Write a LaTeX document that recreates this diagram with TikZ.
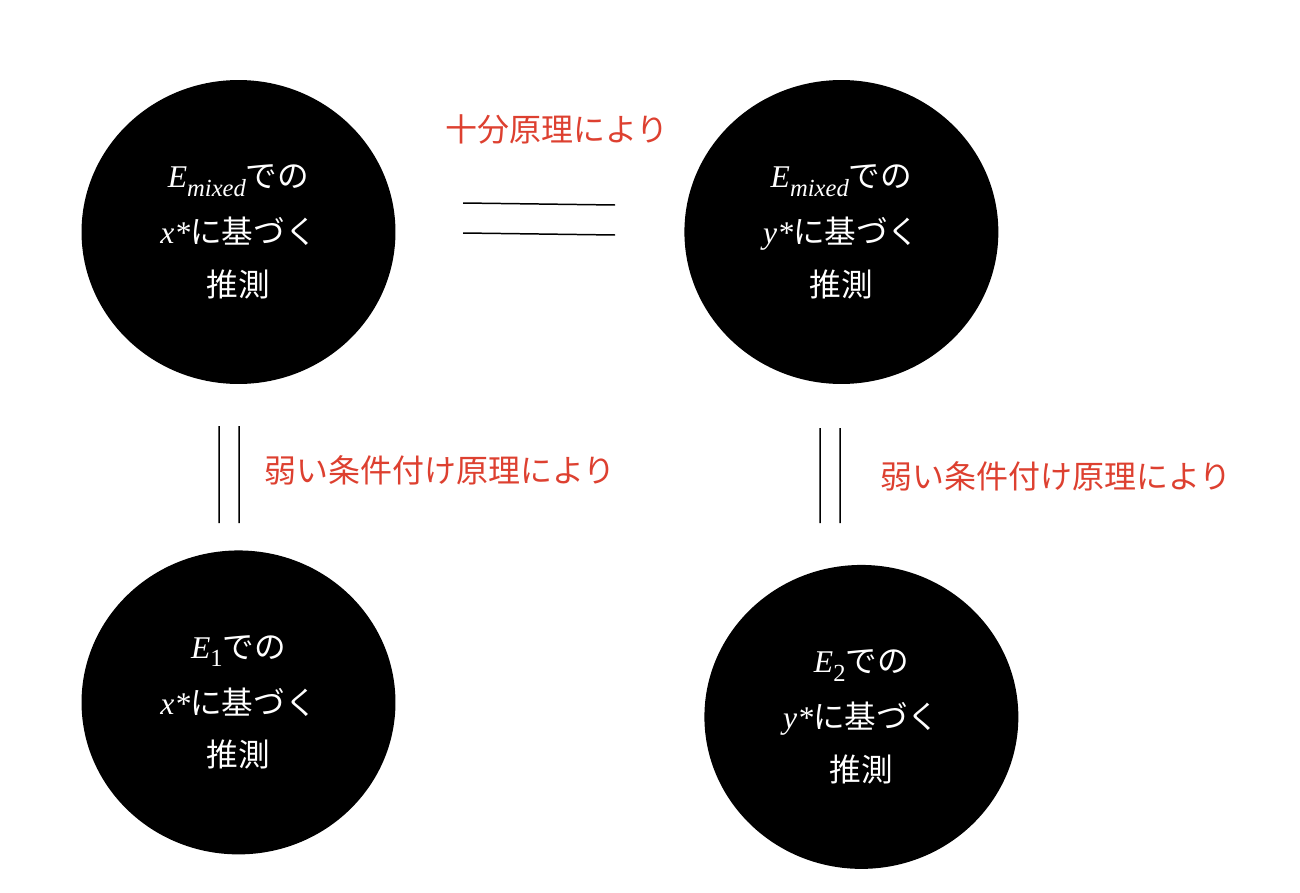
\documentclass[tikz,border=0pt]{standalone}
\usepackage{fontspec}
\setmainfont{Liberation Serif}
\newfontfamily\jpfont{Noto Sans CJK JP}
\newfontfamily\latinf{Liberation Serif}
\usetikzlibrary{shapes,arrows,positioning}
\definecolor{labelred}{RGB}{221,64,48}
\newcommand\ivar[1]{{\latinf\itshape #1}}
\newcommand\lowsub[1]{\raisebox{-0.5ex}{\fontsize{14}{14}\selectfont #1}}

\begin{document}
\begin{tikzpicture}[
    x = 0.02cm, y = -0.02cm,
    node distance = 1cm,
    every node/.style = {align=center},
    infer/.style = {ellipse, fill=black, text=white, inner sep=0pt,
      minimum width=6.28cm, minimum height=6.08cm,
      font=\jpfont\fontsize{18}{30}\selectfont},
    reason/.style = {text=labelred, font=\jpfont\fontsize{18.2}{22}\selectfont},
    eqline/.style = {line width=0.85pt},
    >=stealth
  ]
  \useasboundingbox (0,0) rectangle (1300,892);

  \node[infer] (mixX) at (238.5,232)
    {\ivar{E}\lowsub{\ivar{mixed}}での\\[2pt] \ivar{x*}に基づく\\ 推測};
  \node[infer, right of=mixX, node distance=12.06cm] (mixY)
    {\ivar{E}\lowsub{\ivar{mixed}}での\\[2pt] \ivar{y*}に基づく\\ 推測};
  \node[infer, below of=mixX, node distance=9.41cm] (expX)
    {\ivar{E}\lowsub{\latinf 1}での\\[2pt] \ivar{x*}に基づく\\ 推測};
  \node[infer, below of=mixY, node distance=9.7cm, xshift=0.4cm] (expY)
    {\ivar{E}\lowsub{\latinf 2}での\\[2pt] \ivar{y*}に基づく\\ 推測};

  \node[reason] (suff) at (557,129) {十分原理により};
  \node[reason] (weakX) at (440,470) {弱い条件付け原理により};
  \node[reason] (weakY) at (1056,476) {弱い条件付け原理により};

  % equal signs between the inferences
  \coordinate (eqAL) at (463,203);
  \coordinate (eqAR) at (615,205);
  \coordinate (eqBL) at (463,233);
  \coordinate (eqBR) at (615,235);
  \coordinate (vxAT) at (219,426);
  \coordinate (vxAB) at (219,523);
  \coordinate (vxBT) at (239,426);
  \coordinate (vxBB) at (239,523);
  \coordinate (vyAT) at (820,428);
  \coordinate (vyAB) at (820,523);
  \coordinate (vyBT) at (840,428);
  \coordinate (vyBB) at (840,523);

  \draw[eqline] (eqAL) -- (eqAR)
                (eqBL) -- (eqBR)
                (vxAT) -- (vxAB)
                (vxBT) -- (vxBB)
                (vyAT) -- (vyAB)
                (vyBT) -- (vyBB);

\end{tikzpicture}
\end{document}
